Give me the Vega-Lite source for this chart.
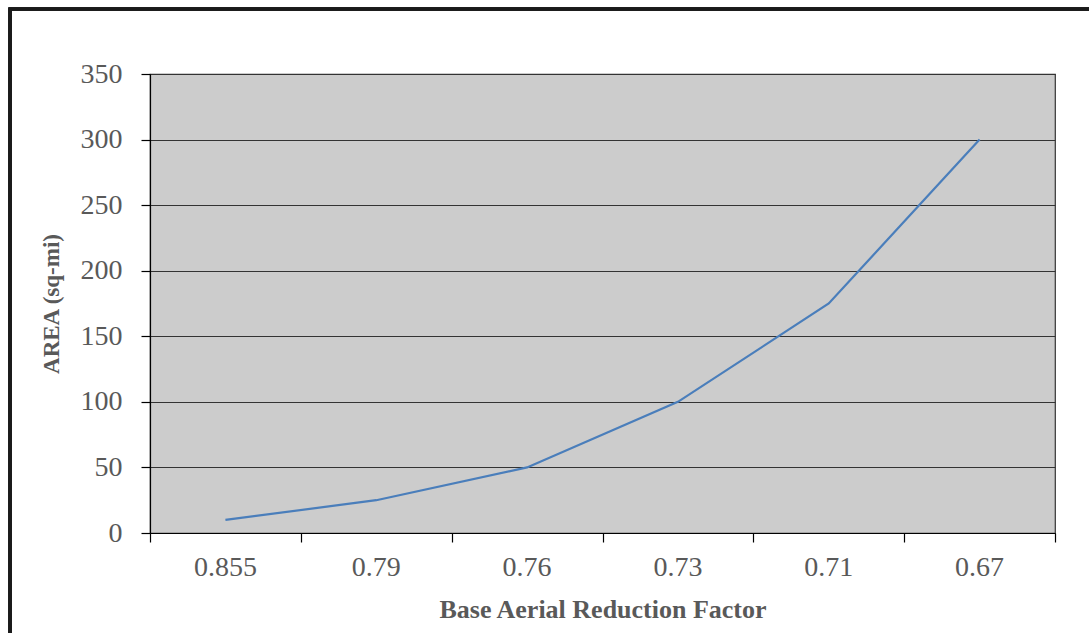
{
  "$schema": "https://vega.github.io/schema/vega-lite/v6.json",
  "autosize": "none",
  "width": 905,
  "height": 459,
  "padding": {"left": 150, "top": 74, "right": 34, "bottom": 100},
  "background": "white",
  "config": {
    "font": "Liberation Serif",
    "view": {"fill": "#cccccc", "stroke": "#333333", "strokeWidth": 1.2},
    "axis": {
      "labelFont": "Liberation Serif",
      "titleFont": "Liberation Serif",
      "labelColor": "#595959",
      "titleColor": "#595959",
      "labelFontSize": 28,
      "titleFontSize": 26,
      "titleFontWeight": "bold",
      "domainColor": "#000000",
      "tickColor": "#000000",
      "domainWidth": 1.2,
      "tickWidth": 1.2
    }
  },
  "data": {
    "values": [
      {"factor": "0.855", "area": 10},
      {"factor": "0.79", "area": 25},
      {"factor": "0.76", "area": 50},
      {"factor": "0.73", "area": 100},
      {"factor": "0.71", "area": 175},
      {"factor": "0.67", "area": 300}
    ]
  },
  "resolve": {"scale": {"x": "independent"}, "axis": {"x": "independent"}},
  "layer": [
    {
      "mark": {"type": "rect", "fill": "transparent", "stroke": "#1a1a1a", "strokeWidth": 3, "clip": false},
      "encoding": {
        "x": {
          "datum": -0.928,
          "type": "quantitative",
          "scale": {"domain": [0, 6], "nice": false, "zero": false},
          "axis": {
            "orient": "bottom",
            "values": [0, 1, 2, 3, 4, 5, 6],
            "labels": false,
            "title": null,
            "ticks": true,
            "tickSize": 9,
            "domain": true,
            "grid": false
          }
        },
        "x2": {"datum": 7.5},
        "y": {
          "datum": 399.6,
          "type": "quantitative",
          "scale": {"domain": [0, 350], "nice": false},
          "axis": {
            "values": [0, 50, 100, 150, 200, 250, 300, 350],
            "title": "AREA (sq-mi)",
            "titleFontSize": 23,
            "titlePadding": 17,
            "grid": true,
            "gridColor": "#333333",
            "gridWidth": 1.2,
            "tickSize": 9,
            "labelPadding": 19
          }
        },
        "y2": {"datum": -120}
      }
    },
    {
      "mark": {"type": "line", "color": "#4a7ebb", "strokeWidth": 2.2},
      "encoding": {
        "x": {
          "field": "factor",
          "type": "ordinal",
          "sort": null,
          "scale": {"type": "band", "paddingInner": 0, "paddingOuter": 0},
          "axis": {
            "orient": "bottom",
            "labels": true,
            "ticks": false,
            "domain": false,
            "grid": false,
            "labelPadding": 20,
            "labelAngle": 0,
            "title": "Base Aerial Reduction Factor",
            "titlePadding": 15
          }
        },
        "y": {
          "field": "area",
          "type": "quantitative",
          "scale": {"domain": [0, 350], "nice": false},
          "axis": {
            "values": [0, 50, 100, 150, 200, 250, 300, 350],
            "title": "AREA (sq-mi)",
            "titleFontSize": 23,
            "titlePadding": 17,
            "grid": true,
            "gridColor": "#333333",
            "gridWidth": 1.2,
            "tickSize": 9,
            "labelPadding": 19
          }
        }
      }
    }
  ]
}
